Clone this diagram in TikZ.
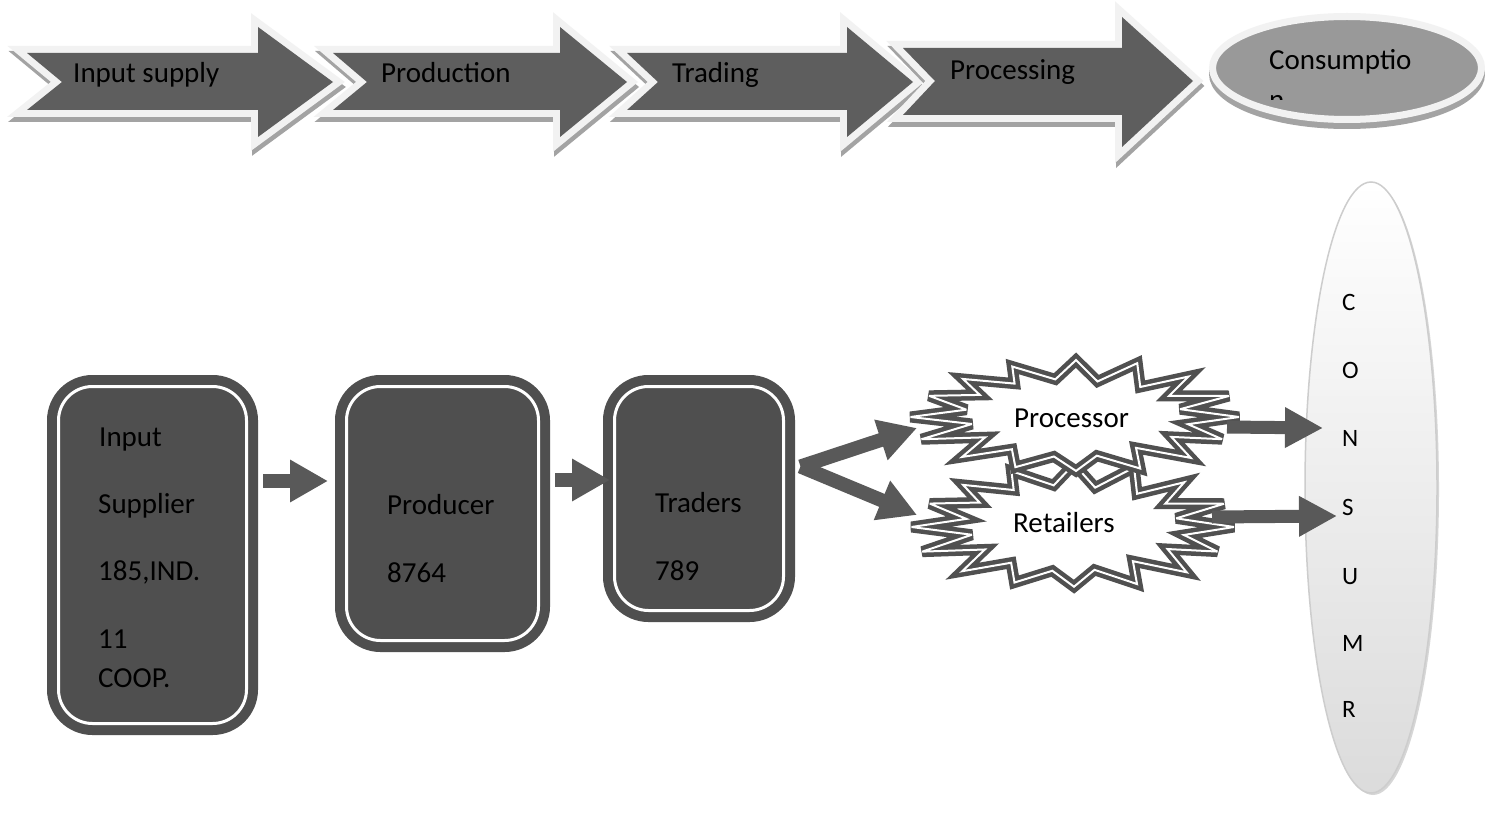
\documentclass[tikz,border=0pt]{standalone}
\usepackage{fontspec}
\setmainfont{Carlito}
\usetikzlibrary{shapes.geometric,arrows.meta,calc}

\definecolor{chevfill}{HTML}{5E5E5E}
\definecolor{rimlight}{HTML}{F2F2F2}
\definecolor{shadowgray}{HTML}{A3A3A3}
\definecolor{ovalfill}{HTML}{999999}
\definecolor{boxfill}{HTML}{4F4F4F}
\definecolor{flowgray}{HTML}{595959}
\definecolor{burstrim}{HTML}{505050}
\definecolor{consrim}{HTML}{CDCDCD}

% block arrow with a notched tail:
% #1 tail x, #2 notch x, #3 body top, #4 body bottom, #5 middle y,
% #6 head start x, #7 head top, #8 head bottom, #9 tip x
\newcommand\stagearrow[9]{%
  \path[fill=shadowgray, draw=shadowgray, line width=14pt, line join=miter, shift={(1,5)}]
    (#1,#3) -- (#6,#3) -- (#6,#7) -- (#9,#5) -- (#6,#8) -- (#6,#4) -- (#1,#4) -- (#2,#5) -- cycle;
  \path[fill=rimlight, draw=rimlight, line width=14pt, line join=miter]
    (#1,#3) -- (#6,#3) -- (#6,#7) -- (#9,#5) -- (#6,#8) -- (#6,#4) -- (#1,#4) -- (#2,#5) -- cycle;
  \path[fill=chevfill]
    (#1,#3) -- (#6,#3) -- (#6,#7) -- (#9,#5) -- (#6,#8) -- (#6,#4) -- (#1,#4) -- (#2,#5) -- cycle;
}

% explosion outline around a node: #1 node name, #2 outer x radius, #3 outer y radius
\newcommand\burstaround[3]{%
  \path[burstline, shift={(#1.center)}]
    plot[samples at={0,1,...,31}, variable=\k]
      ({(ifthenelse(mod(\k,2)==0,1,0.68)+0.03*sin(\k*137))*#2*cos(\k*360/32)},
       {(ifthenelse(mod(\k,2)==0,1,0.68)+0.04*sin(\k*211))*#3*sin(\k*360/32)})
    -- cycle;
}

\tikzset{
  lbl/.style={font=\fontsize{29}{34}\selectfont, inner sep=0pt, anchor=base west, text=black},
  letter/.style={font=\fontsize{25}{30}\selectfont, inner sep=0pt, anchor=base west, text=black},
  stagebox/.style={rectangle, draw=boxfill, line width=10pt, double=white, double distance=3pt,
    fill=boxfill, rounded corners=34pt, inner sep=0pt},
  flow/.style={draw=flowgray, line width=14pt, -{Triangle[length=38pt,width=40pt]}},
  burstline/.style={draw=burstrim, line width=4.5pt, double=white, double distance=2pt,
    fill=white, line join=miter, miter limit=4},
  burstcore/.style={ellipse, inner sep=0pt},
}

\begin{document}
\begin{tikzpicture}[x=1pt,y=-1pt]
\useasboundingbox (0,0) rectangle (1485,821);
\fill[white] (0,0) rectangle (1485,821);

% ---- value chain stages (top row) ----
\stagearrow{27}{62}{53}{110}{82}{258}{27}{137}{333}
\stagearrow{333}{367}{53}{110}{82}{560}{27}{137}{627}
\stagearrow{627}{658}{53}{110}{82}{847}{27}{137}{913}
\stagearrow{903}{935}{48}{115}{81}{1122}{17}{147}{1193}

\node[ellipse, minimum width=269pt, minimum height=103pt, fill=shadowgray, draw=shadowgray,
  line width=7pt] (consumeshadow) at (1347,74) {};
\node[ellipse, minimum width=269pt, minimum height=103pt, fill=ovalfill, draw=rimlight,
  line width=7pt] (consume) at (1347,68) {};

\node[lbl] (tinput) at (73,83) {Input supply};
\node[lbl] (tprod) at (381,83) {Production};
\node[lbl] (ttrade) at (672,83) {Trading};
\node[lbl] (tproc) at (950,80) {Processing};
\node[lbl] (tcons) at (1269,70) {Consumptio};
\begin{scope}
  \clip (1200,0) rectangle (1485,100);
  \node[lbl] (tconsn) at (1269,110) {n};
\end{scope}

% ---- actors (bottom row) ----
\node[stagebox, minimum width=188pt, minimum height=337pt] (b1) at (152.5,555) {};
\node[stagebox, minimum width=192pt, minimum height=254pt] (b2) at (442.5,513.5) {};
\node[stagebox, minimum width=169pt, minimum height=224pt] (b3) at (699,498.5) {};

\node[lbl] (b1a) at (99,446) {Input};
\node[lbl] (b1b) at (98,513) {Supplier};
\node[lbl] (b1c) at (98,580) {185,IND.};
\node[lbl] (b1d) at (98,648) {11};
\node[lbl] (b1e) at (98,687) {COOP.};
\node[lbl] (b2a) at (387,514) {Producer};
\node[lbl] (b2b) at (387,582) {8764};
\node[lbl] (b3a) at (655,512) {Traders};
\node[lbl] (b3b) at (655,580) {789};

% consumer oval
\node[ellipse, minimum width=132pt, minimum height=611pt, fill=shadowgray!45, draw=none]
  (consshadow) at (1373,489.5) {};
\node[ellipse, minimum width=132pt, minimum height=611pt, top color=white, bottom color=black!14,
  draw=consrim, line width=1.5pt] (cons) at (1371,487.5) {};
\node[letter] (lc) at (1342,310) {C};
\node[letter] (lo) at (1342,378) {O};
\node[letter] (ln) at (1342,446) {N};
\node[letter] (ls) at (1342,515) {S};
\node[letter] (lu) at (1342,584) {U};
\node[letter] (lm) at (1342,651) {M};
\node[letter] (lr) at (1342,717) {R};

% bursts
\node[burstcore, minimum width=200pt, minimum height=80pt] (ret) at (1074,527) {};
\node[burstcore, minimum width=200pt, minimum height=76pt] (proc) at (1076,417) {};
\burstaround{ret}{160}{62}
\burstaround{proc}{163}{56}
\node[lbl] (tprocr) at (1014,427) {Processor};
\node[lbl] (tret) at (1013,532) {Retailers};

% ---- flows ----
\coordinate (r1) at (0,481);
\coordinate (r2) at (0,480);
\draw[flow] ($(b1.east |- r1)+(11.5,0)$) -- ($(b2.west |- r1)+(-13.5,0)$);
\draw[flow] ($(b2.east |- r2)+(11.5,0)$) -- ($(b3.west |- r2)+(0.5,0)$);

\coordinate (fork) at ($(b3.east)+(12,-32)$);
\draw[flow] (fork) -- ($(proc.center)+(-159,11)$);
\draw[flow] (fork) -- ($(ret.center)+(-157,-12)$);

\draw[flow, line width=13pt, -{Triangle[length=38pt,width=38pt]}]
  ($(proc.center)+(151,10)$) -- ($(cons.center)+(-48,-59.5)$);
\draw[flow, line width=13pt, -{Triangle[length=38pt,width=38pt]}]
  ($(ret.center)+(138,-10)$) -- ($(cons.center)+(-34,28.5)$);
\end{tikzpicture}
\end{document}
